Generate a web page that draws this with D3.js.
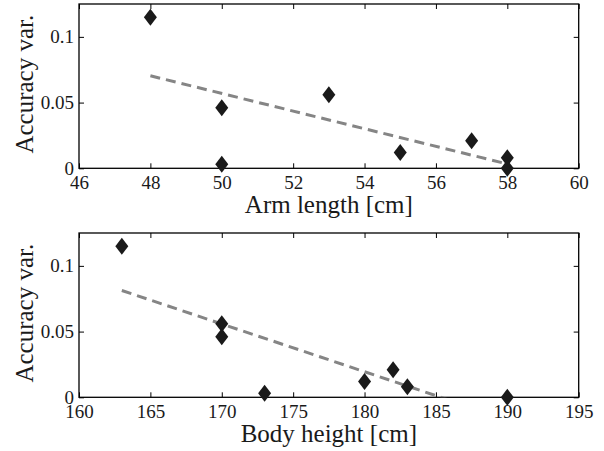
<!DOCTYPE html>
<html>
<head>
<meta charset="utf-8">
<script src="https://cdn.jsdelivr.net/npm/d3@7"></script>
<style>
  html, body { margin: 0; padding: 0; background: #fff; }
  svg { display: block; }
  text { font-family: "Liberation Serif", "Times New Roman", serif; fill: #1a1a1a; }
</style>
</head>
<body>
<svg id="chart" width="604" height="451"></svg>
<script>
// Accuracy variance against arm length
const armLength = [48, 50, 50, 53, 55, 57, 58, 58];               // cm
const accuracyVarArm = [0.115, 0.046, 0.003, 0.056, 0.012, 0.021, 0.008, 0.0];

// Accuracy variance against body height
const bodyHeight = [163, 170, 170, 173, 180, 182, 183, 190];      // cm
const accuracyVarHeight = [0.115, 0.056, 0.046, 0.003, 0.012, 0.021, 0.008, 0.0];

const armTicks = [46, 48, 50, 52, 54, 56, 58, 60];
const heightTicks = [160, 165, 170, 175, 180, 185, 190, 195];
const yTicks = [0, 0.05, 0.1];
const yTickLabels = ["0", "0.05", "0.1"];

const panels = [
  { xs: armLength, ys: accuracyVarArm, xDomain: [46, 60], xTicks: armTicks,
    xLabel: "Arm length [cm]", top: 4, bottom: 168.3 },
  { xs: bodyHeight, ys: accuracyVarHeight, xDomain: [160, 195], xTicks: heightTicks,
    xLabel: "Body height [cm]", top: 233, bottom: 397.3 }
];

const svg = d3.select("#chart");
const left = 79, right = 578.7;
const tickLen = 5;

// least-squares line through the points
function linearFit(xs, ys) {
  const mx = d3.mean(xs), my = d3.mean(ys);
  let sxy = 0, sxx = 0;
  xs.forEach((x, i) => { sxy += (x - mx) * (ys[i] - my); sxx += (x - mx) * (x - mx); });
  const b = sxy / sxx;
  return x => my + b * (x - mx);
}

panels.forEach((p, idx) => {
  const x = d3.scaleLinear().domain(p.xDomain).range([left, right]);
  const y = d3.scaleLinear().domain([0, 0.125]).range([p.bottom, p.top]);
  const g = svg.append("g");

  const clipId = "clip" + idx;
  svg.append("clipPath").attr("id", clipId)
    .append("rect").attr("x", left).attr("y", p.top)
    .attr("width", right - left).attr("height", p.bottom - p.top);

  // Axes: bottom/left with labels, top/right mirrored ticks only
  const xAxis = d3.axisBottom(x).tickValues(p.xTicks).tickSize(-tickLen).tickPadding(8)
    .tickFormat(d3.format("d"));
  const xAxisTop = d3.axisTop(x).tickValues(p.xTicks).tickSize(-tickLen).tickFormat("");
  const yAxis = d3.axisLeft(y).tickValues(yTicks).tickSize(-tickLen).tickPadding(6)
    .tickFormat((d, i) => yTickLabels[i]);
  const yAxisRight = d3.axisRight(y).tickValues(yTicks).tickSize(-tickLen).tickFormat("");

  const styleAxis = sel => {
    sel.attr("font-family", null).attr("font-size", null);
    sel.select(".domain").remove();
    sel.selectAll(".tick line").attr("stroke", "#000").attr("stroke-width", 1);
    sel.selectAll("text").attr("fill", "#1a1a1a").style("font-size", "19px")
      .style("font-family", '"Liberation Serif", serif');
  };

  g.append("g").attr("transform", `translate(0,${p.bottom})`).call(xAxis).call(styleAxis)
    .selectAll("text").attr("dy", "0.71em").attr("y", 7);
  g.append("g").attr("transform", `translate(0,${p.top})`).call(xAxisTop).call(styleAxis);
  g.append("g").attr("transform", `translate(${left},0)`).call(yAxis).call(styleAxis)
    .selectAll("text").attr("x", -5);
  g.append("g").attr("transform", `translate(${right},0)`).call(yAxisRight).call(styleAxis);

  // axes box
  g.append("rect").attr("x", left).attr("y", p.top)
    .attr("width", right - left).attr("height", p.bottom - p.top)
    .attr("fill", "none").attr("stroke", "#000").attr("stroke-width", 1.3);

  // dashed trend line, clipped to the axes box
  const fit = linearFit(p.xs, p.ys);
  const [x0, x1] = d3.extent(p.xs);
  g.append("line").attr("clip-path", `url(#${clipId})`)
    .attr("x1", x(x0)).attr("y1", y(fit(x0)))
    .attr("x2", x(x1)).attr("y2", y(fit(x1)))
    .attr("stroke", "#858585").attr("stroke-width", 3)
    .attr("stroke-dasharray", "10,6");

  // diamond markers
  const hw = 6.5, hh = 8.5;
  g.selectAll("path.marker").data(p.xs.map((v, i) => [v, p.ys[i]])).join("path")
    .attr("class", "marker")
    .attr("d", d => {
      const cx = x(d[0]), cy = y(d[1]);
      return `M${cx},${cy - hh}L${cx + hw},${cy}L${cx},${cy + hh}L${cx - hw},${cy}Z`;
    })
    .attr("fill", "#1a1a1a");

  // axis titles
  g.append("text").attr("x", (left + right) / 2).attr("y", p.bottom + 45)
    .attr("text-anchor", "middle").style("font-size", "25px").text(p.xLabel);
  g.append("text")
    .attr("transform", `translate(33,${(p.top + p.bottom) / 2 - 2}) rotate(-90)`)
    .attr("text-anchor", "middle").style("font-size", "25px").text("Accuracy var.");
});
</script>
</body>
</html>
